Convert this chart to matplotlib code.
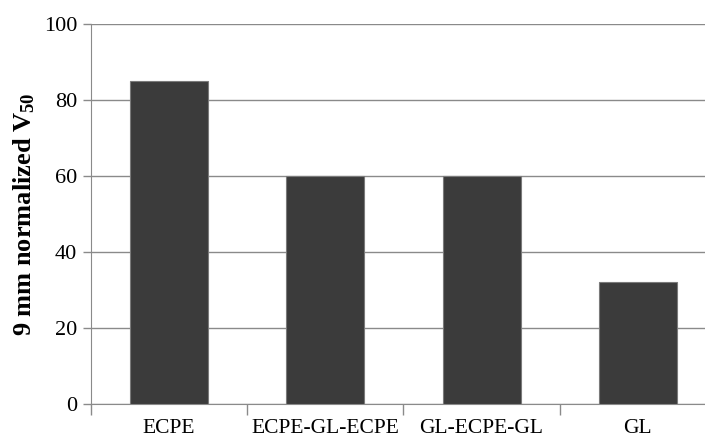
import matplotlib
matplotlib.use("Agg")
import matplotlib.pyplot as plt

categories = ["ECPE", "ECPE-GL-ECPE", "GL-ECPE-GL", "GL"]
values = [85, 60, 60, 32]
yticks = [0, 20, 40, 60, 80, 100]

plt.rcParams['font.family'] = ['Liberation Serif', 'DejaVu Serif']
plt.rcParams['mathtext.fontset'] = 'custom'
plt.rcParams['mathtext.rm'] = 'Liberation Serif'
plt.rcParams['mathtext.bf'] = 'Liberation Serif:bold'
plt.rcParams['mathtext.it'] = 'Liberation Serif:italic'

W, H = 705, 437
fig = plt.figure(figsize=(W/100, H/100), dpi=100)
left, right = 91/W, 716/W
bottom, top = (H-404)/H, (H-24)/H
ax = fig.add_axes([left, bottom, right-left, top-bottom])

x = list(range(len(categories)))
ax.bar(x, values, width=0.5, color="#3b3b3b", edgecolor="#7a7a7a", linewidth=0.8, zorder=3)
ax.set_xlim(-0.5, len(categories)-0.5)
ax.set_ylim(0, 100)
ax.set_yticks(yticks)
ax.set_yticklabels([str(t) for t in yticks], fontsize=16)
ax.yaxis.grid(True, color="#8a8a8a", linewidth=1.0, zorder=0)
ax.set_axisbelow(True)

ax.set_xticks([i - 0.5 for i in range(len(categories)+1)])
ax.set_xticklabels([])
ax.set_xticks(x, minor=True)
ax.set_xticklabels(categories, minor=True, fontsize=15.5)
ax.tick_params(axis='x', which='minor', length=0, pad=11)
ax.tick_params(axis='x', which='major', length=8, color="#8a8a8a", width=1)
ax.tick_params(axis='y', length=6, color="#8a8a8a", width=1, pad=4)

for s in ["top", "right"]:
    ax.spines[s].set_visible(False)
ax.spines["left"].set_color("#8a8a8a")
ax.spines["bottom"].set_color("#8a8a8a")

ax.set_ylabel(r"9 mm normalized V$_{\mathbf{50}}$", fontsize=19, fontweight="bold", labelpad=5)

fig.savefig("out.png", dpi=100)
